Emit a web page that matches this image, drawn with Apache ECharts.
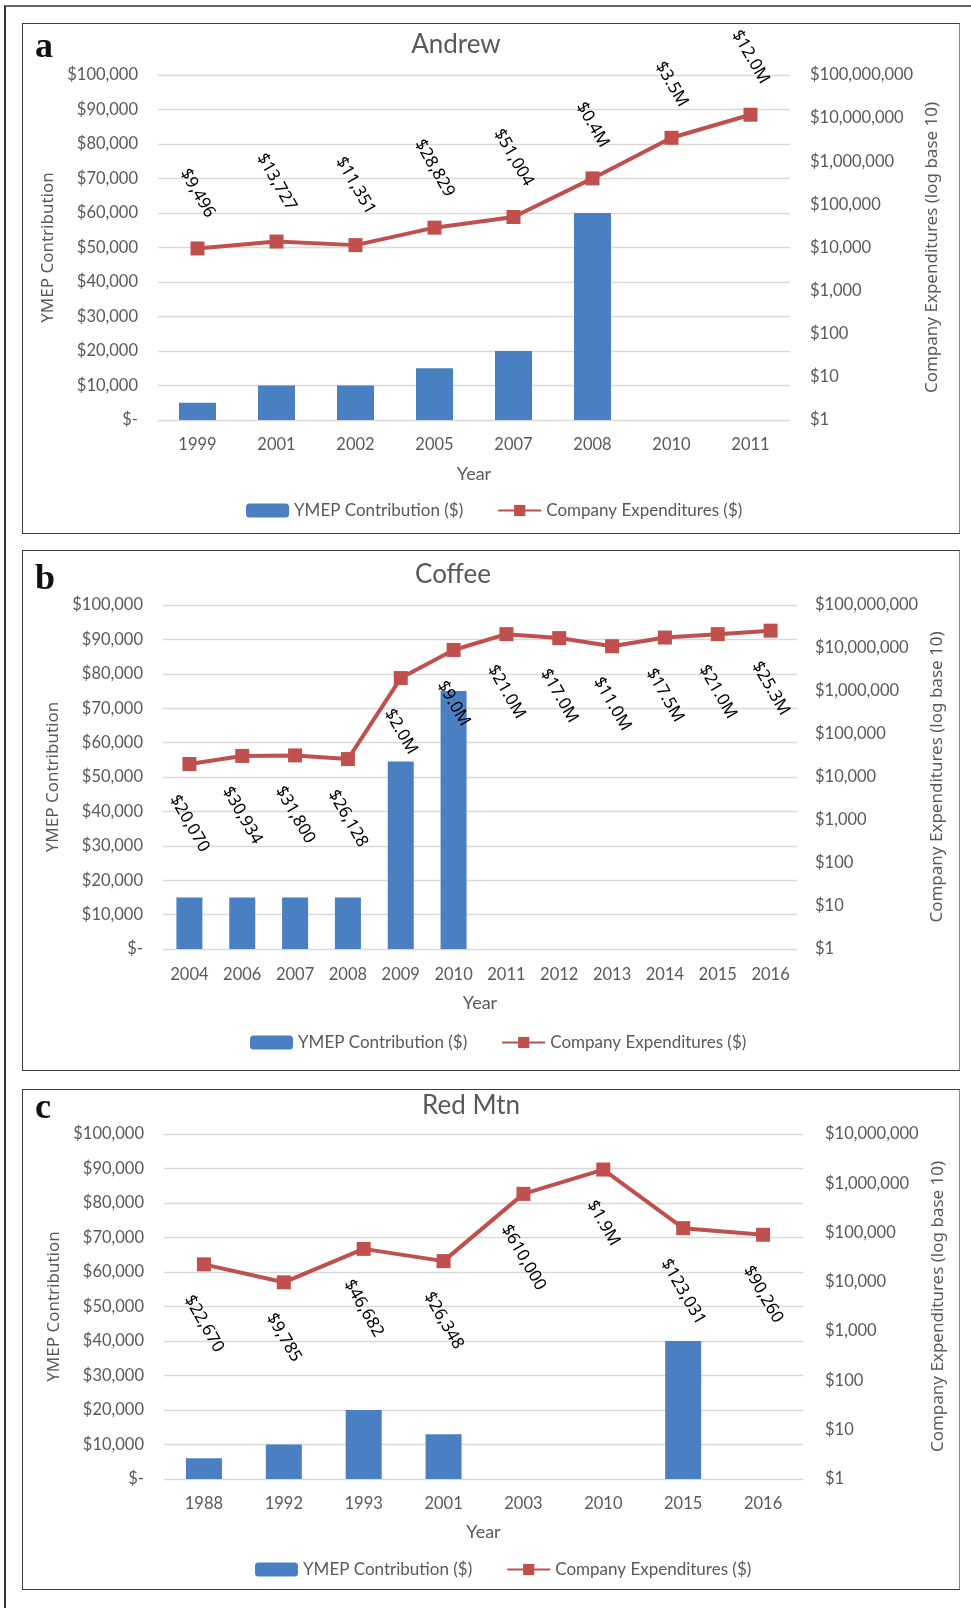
<!DOCTYPE html>
<html><head><meta charset="utf-8">
<script src="https://cdn.jsdelivr.net/npm/echarts@6/dist/echarts.min.js"></script>
<style>
html,body{margin:0;padding:0;background:#fff;width:971px;height:1608px;overflow:hidden;position:relative}
#frame{position:absolute;left:4px;top:5px;width:1000px;height:1700px;border-left:2px solid #333;border-top:2px solid #666;}
.panel{position:absolute;left:22px;width:938px;box-sizing:border-box;border:1.5px solid #3c3c3c;border-right-color:#8a8a8a}
.chart{position:absolute;left:22px;width:938px}
</style></head><body>
<div id="frame"></div>
<div class="panel" style="top:23px;height:511px"></div>
<div class="panel" style="top:550px;height:521px"></div>
<div class="panel" style="top:1089px;height:501px"></div>
<div class="chart" id="ca" style="top:23px;height:511px"></div>
<div class="chart" id="cb" style="top:550px;height:521px"></div>
<div class="chart" id="cc" style="top:1089px;height:501px"></div>
<script>
// ---- data ----
const andrewYears = ['1999','2001','2002','2005','2007','2008','2010','2011'];
const andrewYmep = [5000,10000,10000,15000,20000,60000,null,null];
const andrewExp = [9496,13727,11351,28829,51004,400000,3500000,12000000];
const andrewExpLabels = ['$9,496','$13,727','$11,351','$28,829','$51,004','$0.4M','$3.5M','$12.0M'];

const coffeeYears = ['2004','2006','2007','2008','2009','2010','2011','2012','2013','2014','2015','2016'];
const coffeeYmep = [15000,15000,15000,15000,54500,75000,null,null,null,null,null,null];
const coffeeExp = [20070,30934,31800,26128,2000000,9000000,21000000,17000000,11000000,17500000,21000000,25300000];
const coffeeExpLabels = ['$20,070','$30,934','$31,800','$26,128','$2.0M','$9.0M','$21.0M','$17.0M','$11.0M','$17.5M','$21.0M','$25.3M'];

const redYears = ['1988','1992','1993','2001','2003','2010','2015','2016'];
const redYmep = [6000,10000,20000,13000,null,null,40000,null];
const redExp = [22670,9785,46682,26348,610000,1900000,123031,90260];
const redExpLabels = ['$22,670','$9,785','$46,682','$26,348','$610,000','$1.9M','$123,031','$90,260'];

const leftMax = 100000, leftStep = 10000;
const seriesNames = ['YMEP Contribution ($)','Company Expenditures ($)'];
const leftAxisName = 'YMEP Contribution';
const rightAxisName = 'Company Expenditures (log base 10)';
const xAxisName = 'Year';

// ---- styling ----
const GRAY = '#595959';
const TICK_FONT = 'Lato';
const LABEL_FONT_FAMILY = 'Noto Sans';
const LABEL_SIZE = 17;
const ROT = 60 * Math.PI / 180;
const mctx = document.createElement('canvas').getContext('2d');
function labelOffset(txt, dir){
  mctx.font = LABEL_SIZE + 'px "' + LABEL_FONT_FAMILY + '"';
  const w = mctx.measureText(txt).width;
  const d = 28 + (w*Math.sin(ROT) + LABEL_SIZE*Math.cos(ROT))/2;
  // offset is applied in the label's rotated frame: counter-rotate a vertical shift
  return [dir * d * Math.sin(ROT), dir * d * Math.cos(ROT)];
}

function build(cfg){
  const chart = echarts.init(document.getElementById(cfg.el));
  const lineData = cfg.exp.map((v,i)=>({value:v, label:{offset:labelOffset(cfg.labels[i], cfg.dir)}}));
  chart.setOption({
    animation:false,
    graphic:[
      {type:'text', x:cfg.titleX, y:cfg.titleY, style:{text:cfg.title, align:'center', verticalAlign:'middle', fill:GRAY, font:'26px Lato'}},
      {type:'text', x:13, y:cfg.letterY, style:{text:cfg.letter, align:'left', verticalAlign:'middle', fill:'#111', font:'bold 36px "Liberation Serif"'}}
    ],
    legend:{
      left:cfg.legendLeft, top:cfg.legendTop, padding:0, itemGap:34, itemWidth:43, itemHeight:14,
      textStyle:{color:GRAY, fontFamily:TICK_FONT, fontSize:17},
      data:seriesNames
    },
    grid:{left:cfg.grid[0], top:cfg.grid[1], right:cfg.grid[2], bottom:cfg.grid[3]},
    xAxis:{
      type:'category', data:cfg.years,
      axisLine:{show:false}, axisTick:{show:false},
      axisLabel:{color:GRAY, fontFamily:TICK_FONT, fontSize:16.5, margin:cfg.xMargin},
      name:xAxisName, nameLocation:'middle', nameGap:cfg.xNameGap,
      nameTextStyle:{color:GRAY, fontFamily:TICK_FONT, fontSize:18}
    },
    yAxis:[
      {type:'value', min:0, max:leftMax, interval:leftStep,
       axisLine:{show:false}, axisTick:{show:false},
       splitLine:{lineStyle:{color:'#d9d9d9', width:1.3}},
       axisLabel:{color:GRAY, fontFamily:TICK_FONT, fontSize:16.5, margin:20,
         formatter:v=> v===0 ? '$-' : '$'+v.toLocaleString('en-US')},
       name:leftAxisName, nameLocation:'middle', nameGap:cfg.lNameGap,
       nameTextStyle:{color:GRAY, fontFamily:'Noto Sans', fontSize:17}
      },
      {type:'log', logBase:10, min:1, max:cfg.rightMax, splitNumber:Math.round(Math.log10(cfg.rightMax)),
       axisLine:{show:false}, axisTick:{show:false}, splitLine:{show:false},
       axisLabel:{color:GRAY, fontFamily:TICK_FONT, fontSize:16.5, margin:cfg.rMargin,
         formatter:v=> '$'+Math.round(v).toLocaleString('en-US')},
       name:rightAxisName, nameLocation:'middle', nameGap:cfg.rNameGap,
       nameTextStyle:{color:GRAY, fontFamily:'Noto Sans', fontSize:17}
      }
    ],
    series:[
      {name:seriesNames[0], type:'bar', data:cfg.ymep, barWidth:cfg.barWidth, yAxisIndex:0,
       itemStyle:{color:'#4a7fc1'}},
      {name:seriesNames[1], type:'line', data:lineData, yAxisIndex:1,
       symbol:'rect', symbolSize:14, lineStyle:{color:'#c0504d', width:4},
       itemStyle:{color:'#c0504d'},
       label:{show:true, position:'inside', rotate:-60, align:'center', verticalAlign:'middle',
         color:'#000', fontFamily:LABEL_FONT_FAMILY, fontSize:LABEL_SIZE,
         formatter:p=>cfg.labels[p.dataIndex]}
      }
    ]
  });
}

build({el:'ca', title:'Andrew', titleX:434, titleY:22, letter:'a', letterY:25,
  years:andrewYears, ymep:andrewYmep, exp:andrewExp, labels:andrewExpLabels, dir:-1,
  grid:[136,52,170,114], rightMax:1e8, barWidth:37, xMargin:16, xNameGap:45,
  lNameGap:101, rNameGap:134, rMargin:20, legendLeft:224, legendTop:479});
build({el:'cb', title:'Coffee', titleX:431, titleY:25, letter:'b', letterY:30,
  years:coffeeYears, ymep:coffeeYmep, exp:coffeeExp, labels:coffeeExpLabels, dir:1,
  grid:[141,55,163,122], rightMax:1e8, barWidth:26, xMargin:17, xNameGap:45,
  lNameGap:101, rNameGap:130, rMargin:18, legendLeft:228, legendTop:484});
build({el:'cc', title:'Red Mtn', titleX:449, titleY:17, letter:'c', letterY:20,
  years:redYears, ymep:redYmep, exp:redExp, labels:redExpLabels, dir:1,
  grid:[142,45,157,111], rightMax:1e7, barWidth:36, xMargin:16, xNameGap:44,
  lNameGap:99, rNameGap:126, rMargin:22, legendLeft:233, legendTop:472});
</script>
</body></html>
